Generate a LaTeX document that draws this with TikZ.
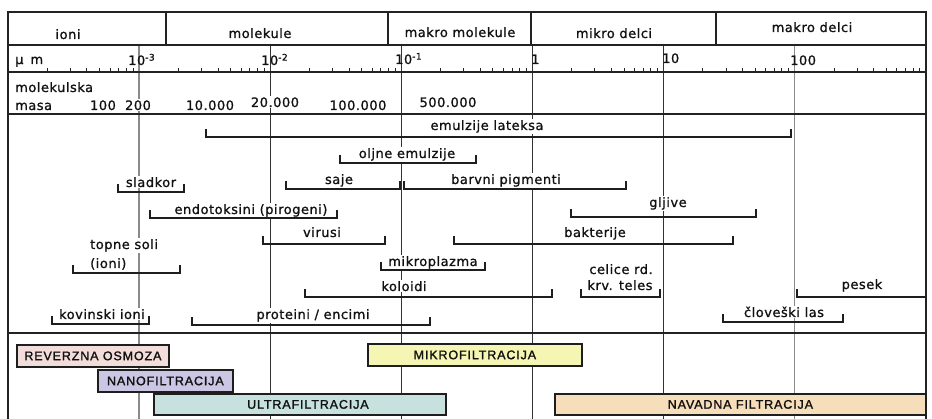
\documentclass[tikz,border=0pt]{standalone}
\usepackage{fontspec}
\newfontfamily\lblfont{DejaVu Sans}[LetterSpace=4,FakeBold=1]
\newfontfamily\boxfont{Liberation Sans}[LetterSpace=7,FakeBold=1.5]
\definecolor{txt}{HTML}{111111}
\definecolor{brc}{HTML}{1E1E1E}
\definecolor{frm}{HTML}{222222}
\definecolor{gline}{HTML}{8A8A8A}
\definecolor{dline}{HTML}{333333}
\definecolor{rofill}{RGB}{243,221,218}
\definecolor{nffill}{RGB}{202,198,228}
\definecolor{uffill}{RGB}{199,226,222}
\definecolor{mffill}{RGB}{246,246,180}
\definecolor{navfill}{RGB}{246,222,186}
\newcommand\brkt[3]{\draw[brk] (#1,#3-8) -- (#1,#3) -- (#2,#3) -- (#2,#3-8);}
\begin{document}
\begin{tikzpicture}[x=1pt,y=-1pt,
  lbl/.style={font=\lblfont\fontsize{13}{15}\selectfont, text=txt, fill=white, inner sep=1pt, anchor=base},
  hdr/.style={font=\lblfont\fontsize{13}{15}\selectfont, text=txt, inner sep=0pt, anchor=base},
  brk/.style={draw=brc, line width=2pt},
  fbox/.style={draw=brc, line width=1.8pt, font=\boxfont\fontsize{12.5}{14}\selectfont, text=txt, inner sep=0pt, anchor=north west},
  rowline/.style={draw=frm, line width=1.4pt},
  frame/.style={draw=frm, line width=2pt},
  tk/.style={draw=frm, line width=1pt},
  gdec/.style={draw=gline, line width=1.6pt},
  ddec/.style={draw=dline, line width=1.1pt}
]
\useasboundingbox (0,0) rectangle (932,419);
\fill[white] (0,0) rectangle (932,419);
% decade lines
\draw[gdec] (139.1,45) -- (139.1,419);
\draw[ddec] (270.2,45) -- (270.2,419);
\draw[ddec] (401.3,45) -- (401.3,419);
\draw[ddec] (532.4,45) -- (532.4,419);
\draw[ddec] (663.5,45) -- (663.5,419);
\draw[gdec] (794.6,45) -- (794.6,419);
% ticks
\foreach \k in {0,...,6}{\foreach \m in {2,...,9}{\draw[tk] ({8+131.1*(\k+log10(\m))},68) -- ++(0,4);}}
% row lines
\draw[rowline] (8,45) -- (925,45);
\draw[rowline] (8,72) -- (925,72);
\draw[rowline] (8,114) -- (925,114);
\draw[rowline] (8,333) -- (925,333);
% frame
\draw[frame] (8,419) -- (8,12) -- (925.5,12) -- (925.5,419);
\foreach \x in {166,388,531,716}{\draw[frame] (\x,12) -- (\x,45);}
% header labels
\node[hdr] (hioni) at (68,39) {ioni};
\node[hdr] (hmol) at (260,38) {molekule};
\node[hdr] (hmakmol) at (460,37) {makro molekule};
\node[hdr] (hmik) at (614,38) {mikro delci};
\node[hdr] (hmakd) at (812,32) {makro delci};
% scale labels
\node[hdr, anchor=base west] (um) at (15,64) {μ\hspace{7pt}m};
\node[hdr, anchor=base west] (d3) at (128,65) {10\textsuperscript{-3}};
\node[hdr, anchor=base west] (d2) at (261,65) {10\textsuperscript{-2}};
\node[hdr, anchor=base west] (d1) at (395,64) {10\textsuperscript{-1}};
\node[hdr, anchor=base west] (d0) at (531,64) {1};
\node[hdr, anchor=base west] (dp1) at (662,63) {10};
\node[hdr, anchor=base west] (dp2) at (790,65) {100};
% mass row
\node[hdr, anchor=base west] (mm1) at (15,92) {molekulska};
\node[hdr, anchor=base west] (mm2) at (15,110) {masa};
\node[lbl] (m100) at (103,110) {100};
\node[lbl] (m200) at (138,110) {200};
\node[lbl] (m10k) at (210,110) {10.000};
\node[lbl] (m20k) at (275,107) {20.000};
\node[lbl] (m100k) at (358,110) {100.000};
\node[lbl] (m500k) at (448,107) {500.000};
% bracket labels
\node[lbl] (emul) at (487,130) {emulzije lateksa};
\node[lbl] (olj) at (407,158) {oljne emulzije};
\node[lbl] (saje) at (339,184) {saje};
\node[lbl] (barv) at (506,184) {barvni pigmenti};
\node[lbl] (slad) at (151,187) {sladkor};
\node[lbl] (endo) at (251,214) {endotoksini (pirogeni)};
\node[lbl] (glj) at (668,207) {gljive};
\node[lbl] (vir) at (322,237) {virusi};
\node[lbl] (bakt) at (595,237) {bakterije};
\node[lbl, anchor=base west] (top1) at (89,249) {topne soli};
\node[lbl, anchor=base west] (top2) at (89,268) {(ioni)};
\node[lbl] (mikp) at (433,266) {mikroplazma};
\node[lbl] (cel1) at (621,274) {celice rd.};
\node[lbl] (cel2) at (620,290) {krv. teles};
\node[lbl] (kol) at (404,291) {koloidi};
\node[lbl] (pes) at (862,289) {pesek};
\node[lbl] (kov) at (102,319) {kovinski ioni};
\node[lbl] (prot) at (313,319) {proteini / encimi};
\node[lbl] (clov) at (784,317) {človeški las};
% brackets
\brkt{206}{791}{137}
\brkt{340}{476}{163}
\brkt{286}{400}{189}
\brkt{404}{626}{189}
\brkt{118}{184}{192}
\brkt{150}{337}{218}
\brkt{571}{756}{217}
\brkt{263}{385}{244}
\brkt{454}{733}{244}
\brkt{73}{180}{273}
\brkt{381}{485}{270}
\brkt{581}{660}{297}
\brkt{305}{552}{297}
\draw[brk] (797,289) -- (797,297) -- (925,297);
\brkt{52}{149}{324}
\brkt{192}{430}{325}
\brkt{723}{843}{322}
% filtration boxes
\node[fbox, fill=rofill, minimum width=152pt, minimum height=22pt] (ro) at (16,344) {REVERZNA OSMOZA};
\node[fbox, fill=nffill, minimum width=135pt, minimum height=22pt] (nf) at (97,369) {NANOFILTRACIJA};
\node[fbox, fill=uffill, minimum width=292pt, minimum height=21pt] (uf) at (153,393) {\hspace*{16pt}ULTRAFILTRACIJA};
\node[fbox, fill=mffill, minimum width=214pt, minimum height=22pt] (mf) at (367,343) {MIKROFILTRACIJA};
\node[fbox, fill=navfill, minimum width=371pt, minimum height=21pt] (nav) at (554,393) {NAVADNA FILTRACIJA};
\end{tikzpicture}
\end{document}
